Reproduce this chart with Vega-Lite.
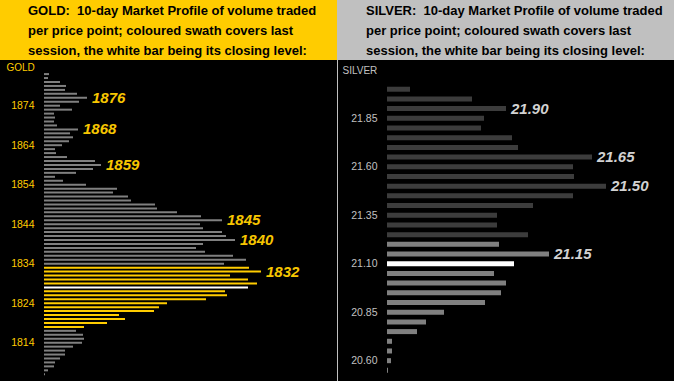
{
  "$schema": "https://vega.github.io/schema/vega-lite/v6.json",
  "padding": 0,
  "background": "#c0c0c0",
  "spacing": 1,
  "resolve": {"scale": {"color": "independent", "x": "independent", "y": "independent"}},
  "config": {"view": {"stroke": null}, "font": "Liberation Sans"},
  "datasets": {
    "goldHead": [{"t": "GOLD:\u00a0 10-day Market Profile of volume traded\nper price point; coloured swath covers last\nsession, the white bar being its closing level:"}],
    "silverHead": [{"t": "SILVER:\u00a0 10-day Market Profile of volume traded\nper price point; coloured swath covers last\nsession, the white bar being its closing level:"}],
    "gold": [
      {"price": 1882, "volume": 5, "kind": "other", "label": ""},
      {"price": 1881, "volume": 4, "kind": "other", "label": ""},
      {"price": 1880, "volume": 16, "kind": "other", "label": ""},
      {"price": 1879, "volume": 22, "kind": "other", "label": ""},
      {"price": 1878, "volume": 21, "kind": "other", "label": ""},
      {"price": 1877, "volume": 33, "kind": "other", "label": ""},
      {"price": 1876, "volume": 43, "kind": "other", "label": "1876"},
      {"price": 1875, "volume": 35, "kind": "other", "label": ""},
      {"price": 1874, "volume": 16, "kind": "other", "label": ""},
      {"price": 1873, "volume": 28, "kind": "other", "label": ""},
      {"price": 1872, "volume": 10, "kind": "other", "label": ""},
      {"price": 1871, "volume": 11, "kind": "other", "label": ""},
      {"price": 1870, "volume": 10, "kind": "other", "label": ""},
      {"price": 1869, "volume": 13, "kind": "other", "label": ""},
      {"price": 1868, "volume": 34, "kind": "other", "label": "1868"},
      {"price": 1867, "volume": 26, "kind": "other", "label": ""},
      {"price": 1866, "volume": 29, "kind": "other", "label": ""},
      {"price": 1865, "volume": 25, "kind": "other", "label": ""},
      {"price": 1864, "volume": 18, "kind": "other", "label": ""},
      {"price": 1863, "volume": 11, "kind": "other", "label": ""},
      {"price": 1862, "volume": 12, "kind": "other", "label": ""},
      {"price": 1861, "volume": 23, "kind": "other", "label": ""},
      {"price": 1860, "volume": 51, "kind": "other", "label": ""},
      {"price": 1859, "volume": 57, "kind": "other", "label": "1859"},
      {"price": 1858, "volume": 49, "kind": "other", "label": ""},
      {"price": 1857, "volume": 32, "kind": "other", "label": ""},
      {"price": 1856, "volume": 11, "kind": "other", "label": ""},
      {"price": 1855, "volume": 19, "kind": "other", "label": ""},
      {"price": 1854, "volume": 42, "kind": "other", "label": ""},
      {"price": 1853, "volume": 73, "kind": "other", "label": ""},
      {"price": 1852, "volume": 69, "kind": "other", "label": ""},
      {"price": 1851, "volume": 84, "kind": "other", "label": ""},
      {"price": 1850, "volume": 87, "kind": "other", "label": ""},
      {"price": 1849, "volume": 111, "kind": "other", "label": ""},
      {"price": 1848, "volume": 113, "kind": "other", "label": ""},
      {"price": 1847, "volume": 133, "kind": "other", "label": ""},
      {"price": 1846, "volume": 157, "kind": "other", "label": ""},
      {"price": 1845, "volume": 178, "kind": "other", "label": "1845"},
      {"price": 1844, "volume": 156, "kind": "other", "label": ""},
      {"price": 1843, "volume": 159, "kind": "other", "label": ""},
      {"price": 1842, "volume": 178, "kind": "other", "label": ""},
      {"price": 1841, "volume": 182, "kind": "other", "label": ""},
      {"price": 1840, "volume": 191, "kind": "other", "label": "1840"},
      {"price": 1839, "volume": 159, "kind": "other", "label": ""},
      {"price": 1838, "volume": 152, "kind": "other", "label": ""},
      {"price": 1837, "volume": 161, "kind": "other", "label": ""},
      {"price": 1836, "volume": 189, "kind": "other", "label": ""},
      {"price": 1835, "volume": 202, "kind": "other", "label": ""},
      {"price": 1834, "volume": 180, "kind": "other", "label": ""},
      {"price": 1833, "volume": 205, "kind": "session", "label": ""},
      {"price": 1832, "volume": 217, "kind": "session", "label": "1832"},
      {"price": 1831, "volume": 186, "kind": "session", "label": ""},
      {"price": 1830, "volume": 204, "kind": "session", "label": ""},
      {"price": 1829, "volume": 213, "kind": "session", "label": ""},
      {"price": 1828, "volume": 204, "kind": "close", "label": ""},
      {"price": 1827, "volume": 181, "kind": "session", "label": ""},
      {"price": 1826, "volume": 183, "kind": "session", "label": ""},
      {"price": 1825, "volume": 162, "kind": "session", "label": ""},
      {"price": 1824, "volume": 123, "kind": "session", "label": ""},
      {"price": 1823, "volume": 115, "kind": "session", "label": ""},
      {"price": 1822, "volume": 110, "kind": "session", "label": ""},
      {"price": 1821, "volume": 75, "kind": "session", "label": ""},
      {"price": 1820, "volume": 81, "kind": "session", "label": ""},
      {"price": 1819, "volume": 63, "kind": "session", "label": ""},
      {"price": 1818, "volume": 40, "kind": "session", "label": ""},
      {"price": 1817, "volume": 32, "kind": "other", "label": ""},
      {"price": 1816, "volume": 39, "kind": "other", "label": ""},
      {"price": 1815, "volume": 40, "kind": "other", "label": ""},
      {"price": 1814, "volume": 38, "kind": "other", "label": ""},
      {"price": 1813, "volume": 29, "kind": "other", "label": ""},
      {"price": 1812, "volume": 21, "kind": "other", "label": ""},
      {"price": 1811, "volume": 21, "kind": "other", "label": ""},
      {"price": 1810, "volume": 16, "kind": "other", "label": ""},
      {"price": 1809, "volume": 11, "kind": "other", "label": ""},
      {"price": 1808, "volume": 10, "kind": "other", "label": ""},
      {"price": 1807, "volume": 4, "kind": "other", "label": ""},
      {"price": 1806, "volume": 1, "kind": "other", "label": ""}
    ],
    "silver": [
      {"price": 22.00, "volume": 23, "kind": "other", "label": ""},
      {"price": 21.95, "volume": 85, "kind": "other", "label": ""},
      {"price": 21.90, "volume": 119, "kind": "other", "label": "21.90"},
      {"price": 21.85, "volume": 97, "kind": "other", "label": ""},
      {"price": 21.80, "volume": 94, "kind": "other", "label": ""},
      {"price": 21.75, "volume": 125, "kind": "other", "label": ""},
      {"price": 21.70, "volume": 131, "kind": "other", "label": ""},
      {"price": 21.65, "volume": 205, "kind": "other", "label": "21.65"},
      {"price": 21.60, "volume": 186, "kind": "other", "label": ""},
      {"price": 21.55, "volume": 187, "kind": "other", "label": ""},
      {"price": 21.50, "volume": 219, "kind": "other", "label": "21.50"},
      {"price": 21.45, "volume": 186, "kind": "other", "label": ""},
      {"price": 21.40, "volume": 146, "kind": "other", "label": ""},
      {"price": 21.35, "volume": 110, "kind": "other", "label": ""},
      {"price": 21.30, "volume": 110, "kind": "other", "label": ""},
      {"price": 21.25, "volume": 141, "kind": "other", "label": ""},
      {"price": 21.20, "volume": 112, "kind": "session", "label": ""},
      {"price": 21.15, "volume": 162, "kind": "session", "label": "21.15"},
      {"price": 21.10, "volume": 127, "kind": "close", "label": ""},
      {"price": 21.05, "volume": 107, "kind": "session", "label": ""},
      {"price": 21.00, "volume": 119, "kind": "session", "label": ""},
      {"price": 20.95, "volume": 114, "kind": "session", "label": ""},
      {"price": 20.90, "volume": 98, "kind": "session", "label": ""},
      {"price": 20.85, "volume": 57, "kind": "session", "label": ""},
      {"price": 20.80, "volume": 39, "kind": "session", "label": ""},
      {"price": 20.75, "volume": 30, "kind": "session", "label": ""},
      {"price": 20.70, "volume": 5, "kind": "session", "label": ""},
      {"price": 20.65, "volume": 5, "kind": "session", "label": ""},
      {"price": 20.60, "volume": 4, "kind": "session", "label": ""},
      {"price": 20.55, "volume": 1, "kind": "session", "label": ""}
    ]
  },
  "hconcat": [
    {
      "spacing": 0,
      "bounds": "flush",
      "vconcat": [
        {
          "width": 337, "height": 60,
          "view": {"fill": "#ffcc00", "stroke": null},
          "data": {"name": "goldHead"},
          "mark": {"type": "text", "align": "left", "baseline": "middle", "dx": -140.5, "dy": -19.5, "fontSize": 13, "fontWeight": "bold", "lineHeight": 20, "lineBreak": "\n", "color": "#000000", "font": "Liberation Sans"},
          "encoding": {"text": {"field": "t", "type": "nominal"}}
        },
        {
          "width": 337, "height": 321,
          "view": {"fill": "#000000", "stroke": null},
          "data": {"name": "gold"},
          "encoding": {
            "y": {"field": "price", "type": "quantitative",
              "scale": {"domain": [1804.3, 1885.57], "nice": false, "zero": false, "padding": 0},
              "axis": {"values": [1814, 1824, 1834, 1844, 1854, 1864, 1874], "format": "d", "ticks": false, "tickSize": 0, "domain": false, "grid": false,
                "labelPadding": -34, "labelColor": "#ffcc00", "labelFontSize": 10.5, "labelFont": "Liberation Sans", "labelAlign": "right", "labelBaseline": "middle",
                "title": "GOLD", "titleColor": "#ffcc00", "titleFontSize": 10, "titleFontWeight": "normal", "titleFont": "Liberation Sans", "titleAngle": 0, "titleAlign": "left", "titleBaseline": "alphabetic", "titleX": 6, "titleY": 10.7}},
            "x": {"field": "volume", "type": "quantitative", "stack": null, "scale": {"domain": [-44, 293], "nice": false, "padding": 0}, "axis": null}
          },
          "layer": [
            {"mark": {"type": "bar", "orient": "horizontal", "size": 2},
             "encoding": {"color": {"field": "kind", "type": "nominal", "scale": {"domain": ["other", "session", "close"], "range": ["#808080", "#ffcc00", "#ffffff"]}, "legend": null}}},
            {"transform": [{"filter": "datum.label != ''"}],
             "mark": {"type": "text", "align": "left", "baseline": "middle", "dx": 5, "fontSize": 15, "fontStyle": "italic", "fontWeight": "bold", "color": "#f7c600", "font": "Liberation Sans"},
             "encoding": {"text": {"field": "label", "type": "nominal"}}}
          ]
        }
      ]
    },
    {
      "spacing": 0,
      "bounds": "flush",
      "vconcat": [
        {
          "width": 336, "height": 60,
          "view": {"fill": "#c0c0c0", "stroke": null},
          "data": {"name": "silverHead"},
          "mark": {"type": "text", "align": "left", "baseline": "middle", "dx": -140, "dy": -19.5, "fontSize": 13, "fontWeight": "bold", "lineHeight": 20, "lineBreak": "\n", "color": "#000000", "font": "Liberation Sans"},
          "encoding": {"text": {"field": "t", "type": "nominal"}}
        },
        {
          "width": 336, "height": 321,
          "view": {"fill": "#000000", "stroke": null},
          "data": {"name": "silver"},
          "encoding": {
            "y": {"field": "price", "type": "quantitative",
              "scale": {"domain": [20.4952, 22.1507], "nice": false, "zero": false, "padding": 0},
              "axis": {"values": [20.6, 20.85, 21.1, 21.35, 21.6, 21.85], "format": ".2f", "ticks": false, "tickSize": 0, "domain": false, "grid": false,
                "labelPadding": -39, "labelColor": "#c0c0c0", "labelFontSize": 10.5, "labelFont": "Liberation Sans", "labelAlign": "right", "labelBaseline": "middle",
                "title": "SILVER", "titleColor": "#c0c0c0", "titleFontSize": 10, "titleFontWeight": "normal", "titleFont": "Liberation Sans", "titleAngle": 0, "titleAlign": "left", "titleBaseline": "alphabetic", "titleX": 4, "titleY": 13.5}},
            "x": {"field": "volume", "type": "quantitative", "stack": null, "scale": {"domain": [-49, 287], "nice": false, "padding": 0}, "axis": null}
          },
          "layer": [
            {"mark": {"type": "bar", "orient": "horizontal", "size": 5},
             "encoding": {"color": {"field": "kind", "type": "nominal", "scale": {"domain": ["other", "session", "close"], "range": ["#3c3c3c", "#808080", "#ffffff"]}, "legend": null}}},
            {"transform": [{"filter": "datum.label != ''"}],
             "mark": {"type": "text", "align": "left", "baseline": "middle", "dx": 5, "fontSize": 15, "fontStyle": "italic", "fontWeight": "bold", "color": "#d2d2d2", "font": "Liberation Sans"},
             "encoding": {"text": {"field": "label", "type": "nominal"}}}
          ]
        }
      ]
    }
  ]
}
